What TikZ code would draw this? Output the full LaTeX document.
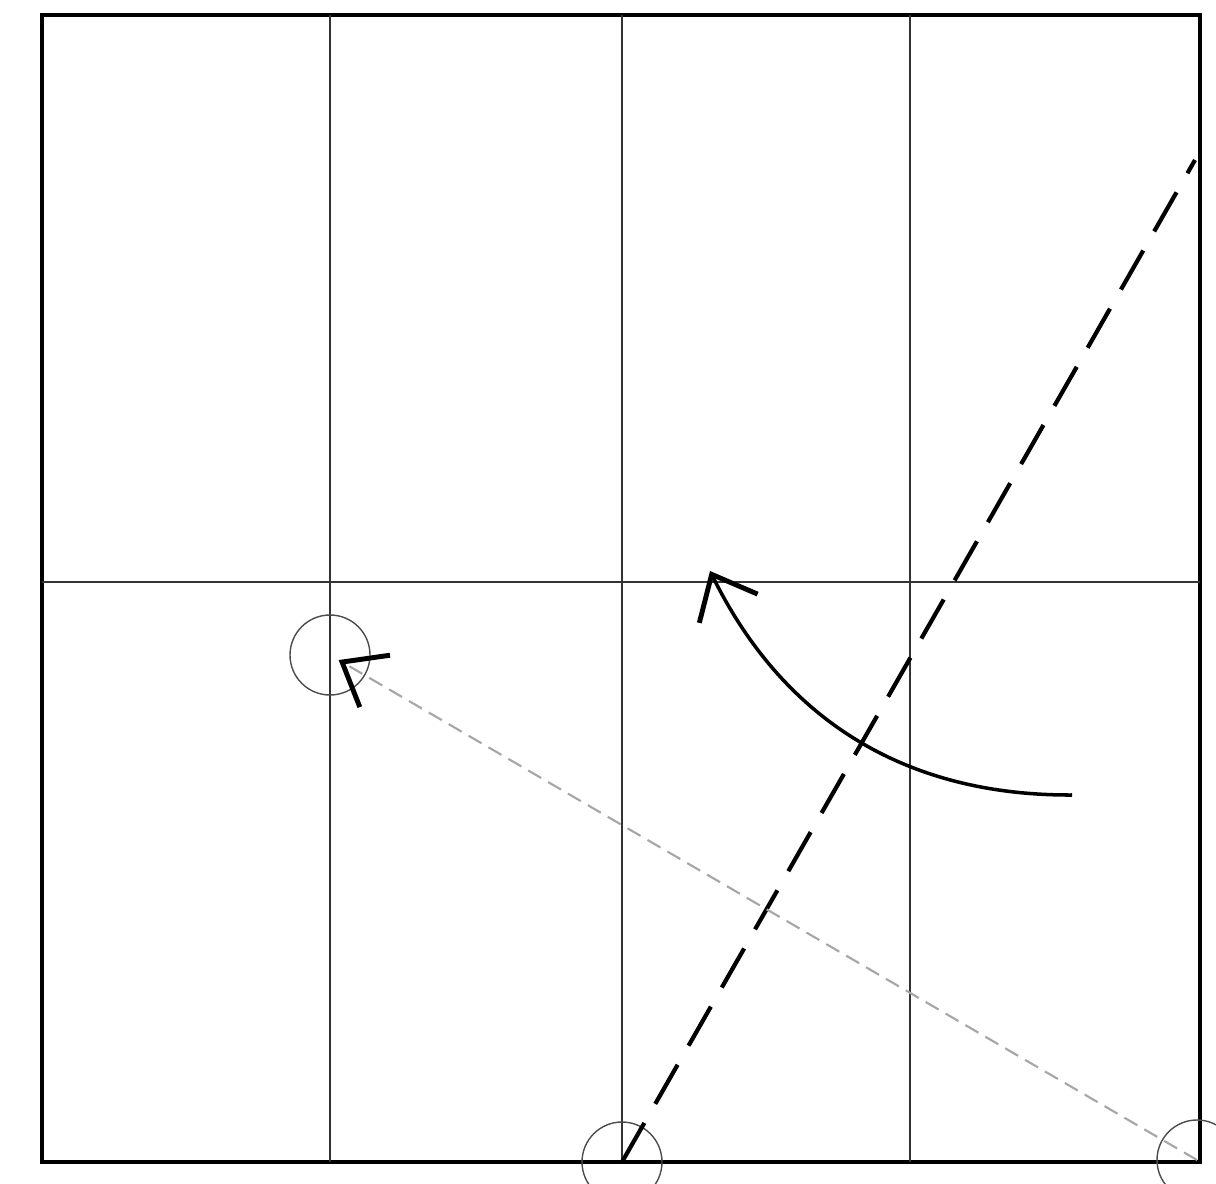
\documentclass[tikz,border=0pt]{standalone}
\usepackage{tikz}
\usetikzlibrary{arrows.meta,calc}
\tikzset{
  sheet/.style={draw,line width=1.4pt},
  crease/.style={draw,line width=0.4pt,black!80},
  pivot/.style={circle,draw,black!70,line width=0.4pt,minimum size=8mm,inner sep=0pt},
  fold/.style={draw,line width=1.2pt,dash pattern=on 0.45cm off 0.22cm},
  guide/.style={draw,black!35,line width=0.6pt,dash pattern=on 0.15cm off 0.08cm},
  turn/.style={draw,line width=1pt},
}

\begin{document}
\begin{tikzpicture}[>={Straight Barb[length=3.8mm,width=6.5mm,line width=1.4pt]}]
\useasboundingbox (0,0) rectangle (12.16,11.83);

% paper and grid
\draw[sheet] (0.42,0.21) rectangle (12.00,11.68);
\foreach \x in {3.30,6.22,9.10}
  \draw[crease] (\x,0.21) -- (\x,11.68);
\draw[crease] (0.42,6.01) -- (12.00,6.01);

% reference points
\node[pivot] (p1) at (3.30,5.28) {};
\node[pivot] (p2) at (6.22,0.21) {};
\node[pivot] (p3) at (11.97,0.23) {};
\coordinate (top) at (11.95,10.23);

% fold line
\draw[fold] (p2.center) -- (top);

% point p3 goes to p1
\draw[guide,-{Straight Barb[color=black,length=3.8mm,width=6mm,line width=1.4pt]}] (p3.center) -- ($(p1.center)!0.1cm!(p3.center)$);

% rotation arrow
\coordinate (from) at (10.72,3.88);
\coordinate (to) at (7.10,6.12);
\draw[turn,->] (from) to[bend left=32] (to);

\end{tikzpicture}
\end{document}
